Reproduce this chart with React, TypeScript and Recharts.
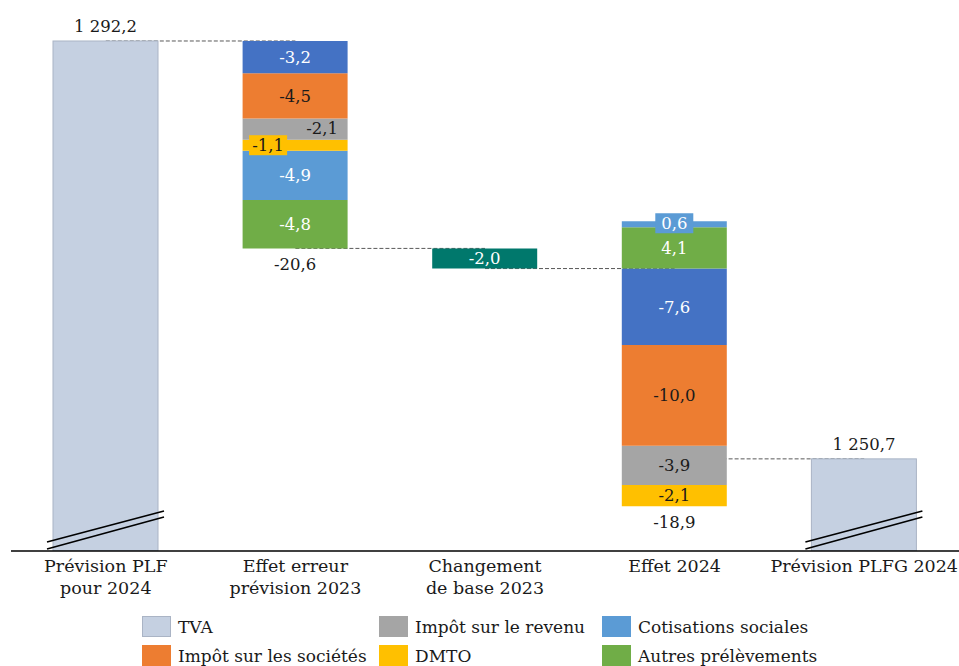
import React from "react";
import { BarChart, Bar, XAxis, YAxis, LabelList, ReferenceLine, Cell } from "recharts";

// categories (x axis)
const categories = [
  "Prévision PLF pour 2024",
  "Effet erreur prévision 2023",
  "Changement de base 2023",
  "Effet 2024",
  "Prévision PLFG 2024",
];
const categoryLines = [
  ["Prévision PLF", "pour 2024"],
  ["Effet erreur", "prévision 2023"],
  ["Changement", "de base 2023"],
  ["Effet 2024"],
  ["Prévision PLFG 2024"],
];

// totals
const previsionPlf = 1292.2;
const previsionPlfg = 1250.7;

// contributions, listed from the top of each stack to its bottom
const erreurKeys = ["tva", "is", "ir", "dmto", "cotis", "autres"];
const erreurValues = [-3.2, -4.5, -2.1, -1.1, -4.9, -4.8];
const changementKeys = ["base"];
const changementValues = [-2.0];
const effetKeys = ["cotis", "autres", "tva", "is", "ir", "dmto"];
const effetValues = [0.6, 4.1, -7.6, -10.0, -3.9, -2.1];

// legend
const legendKeys = ["tvaLegend", "ir", "cotis", "is", "dmto", "autres"];
const legendNames = [
  "TVA",
  "Impôt sur le revenu",
  "Cotisations sociales",
  "Impôt sur les sociétés",
  "DMTO",
  "Autres prélèvements",
];

const COLORS: Record<string, string> = {
  total: "#c5d0e1",
  tvaLegend: "#c5d0e1",
  tva: "#4472c4",
  is: "#ed7d31",
  ir: "#a5a5a5",
  dmto: "#ffc000",
  cotis: "#5b9bd5",
  autres: "#70ad47",
  base: "#00786c",
};
const WHITE_LABELS = ["tva", "cotis", "autres", "base"];

// small label nudges for the thin segments (category index - key)
const LABEL_TWEAKS: Record<string, { dx: number; dy: number; box?: boolean }> = {
  "1-ir": { dx: 27, dy: -1 },
  "1-dmto": { dx: -27, dy: 0, box: true },
  "3-cotis": { dx: 0, dy: -1, box: true },
};

const W = 959;
const H = 610;
const PLOT_TOP = 13;
const AXIS_H = 59;
const PLOT_BOTTOM = H - AXIS_H;
const Y_MIN = 1241.55;
const Y_MAX = 1294.98;
const SLOTS = [0, 1, 2, 3, 4, 5];
const FONT = "'DejaVu Serif', serif";

const sum = (a: number[]) => a.reduce((s, v) => s + v, 0);

function fmt(v: number) {
  const s = Math.abs(v).toFixed(1);
  const [i, d] = s.split(".");
  return (v < 0 ? "-" : "") + i.replace(/\B(?=(\d{3})+(?!\d))/g, " ") + "," + d;
}

function totalRow(name: string, value: number) {
  const row: any = { name, total: value, base: 0, kind: "total" };
  SLOTS.forEach((i) => (row["s" + i] = 0));
  return row;
}

function stepRow(name: string, start: number, keys: string[], values: number[]) {
  const neg = sum(values.filter((v) => v < 0));
  const row: any = { name, total: 0, base: start + neg, net: sum(values), kind: "step" };
  SLOTS.forEach((i) => {
    const j = keys.length - 1 - i; // stack bottom-up
    if (j >= 0) {
      row["s" + i] = Math.abs(values[j]);
      row["k" + i] = keys[j];
      row["v" + i] = values[j];
    } else {
      row["s" + i] = 0;
    }
  });
  return row;
}

const erreurEnd = previsionPlf + sum(erreurValues);
const changementEnd = erreurEnd + sum(changementValues);
const effetEnd = changementEnd + sum(effetValues);

const rows = [
  totalRow(categories[0], previsionPlf),
  stepRow(categories[1], previsionPlf, erreurKeys, erreurValues),
  stepRow(categories[2], erreurEnd, changementKeys, changementValues),
  stepRow(categories[3], changementEnd, effetKeys, effetValues),
  totalRow(categories[4], previsionPlfg),
];

const connectors = [
  { from: 0, to: 1, y: previsionPlf },
  { from: 1, to: 2, y: erreurEnd },
  { from: 2, to: 3, y: changementEnd },
  { from: 3, to: 4, y: effetEnd },
];

const findRow = (name: any) => rows.find((r) => r.name === name);

function TotalShape(props: any) {
  const { x, y, width, height } = props;
  if (!height) return null;
  const bottom = Math.min(y + height, PLOT_BOTTOM);
  const x1 = x - 6;
  const x2 = x + width + 6;
  return (
    <g>
      <rect x={x} y={y} width={width} height={bottom - y} fill={COLORS.total} stroke="#aab4c5" strokeWidth={1} />
      <line x1={x1} y1={bottom - 9} x2={x2} y2={bottom - 40} stroke="#000" strokeWidth={1.6} />
      <line x1={x1} y1={bottom - 2} x2={x2} y2={bottom - 34} stroke="#000" strokeWidth={1.6} />
    </g>
  );
}

function CategoryTick(props: any) {
  const { x, payload } = props;
  const idx = categories.indexOf(payload.value);
  const lines = categoryLines[idx] || [payload.value];
  return (
    <text x={x} y={PLOT_BOTTOM + 21} textAnchor="middle" fontFamily={FONT} fontSize={17.5} fill="#1a1a1a">
      {lines.map((l, i) => (
        <tspan key={i} x={x} dy={i === 0 ? 0 : 22}>
          {l}
        </tspan>
      ))}
    </text>
  );
}

const segLabel = (slot: number) => (props: any) => {
  const { x, y, width, height, value } = props;
  const row = findRow(value);
  if (!row || row.kind !== "step" || !row["s" + slot]) return null;
  const index = rows.indexOf(row);
  const key = row["k" + slot];
  const tw = LABEL_TWEAKS[index + "-" + key] || { dx: 0, dy: 0 };
  const cx = x + width / 2 + tw.dx;
  const cy = y + height / 2 + tw.dy;
  const text = fmt(row["v" + slot]);
  const color = WHITE_LABELS.includes(key) ? "#ffffff" : "#1a1a1a";
  return (
    <g>
      {tw.box && <rect x={cx - 19} y={cy - 10} width={38} height={20} fill={COLORS[key]} />}
      <text x={cx} y={cy} dy="0.35em" textAnchor="middle" fontFamily={FONT} fontSize={16.5} fill={color}>
        {text}
      </text>
    </g>
  );
};

const netLabel = (props: any) => {
  const { x, y, width, value } = props;
  const row = findRow(value);
  if (!row || row.kind !== "step" || row.name === categories[2]) return null;
  return (
    <text x={x + width / 2} y={y + 16} dy="0.35em" textAnchor="middle" fontFamily={FONT} fontSize={16.5} fill="#1a1a1a">
      {fmt(row.net)}
    </text>
  );
};

const totalLabel = (props: any) => {
  const { x, y, width, value } = props;
  const row = findRow(value);
  if (!row || row.kind !== "total") return null;
  return (
    <text x={x + width / 2} y={y - 15} dy="0.35em" textAnchor="middle" fontFamily={FONT} fontSize={16.5} fill="#1a1a1a">
      {fmt(row.total)}
    </text>
  );
};

const LEGEND_X = [142, 379, 602];
const LEGEND_Y = [616, 645];

export default function App() {
  return (
    <div
      style={{
        position: "fixed",
        left: 0,
        top: 0,
        width: W,
        height: 666,
        overflow: "hidden",
        background: "#fff",
        fontFamily: FONT,
      }}
    >
      <BarChart
        width={W}
        height={H}
        data={rows}
        margin={{ top: PLOT_TOP, right: 0, left: 11, bottom: 0 }}
        barSize={105}
      >
        <XAxis
          dataKey="name"
          height={AXIS_H}
          interval={0}
          tickLine={false}
          axisLine={{ stroke: "#000", strokeWidth: 1.5 }}
          tick={<CategoryTick />}
        />
        <YAxis hide type="number" domain={[Y_MIN, Y_MAX]} allowDataOverflow />
        {connectors.map((c, i) => (
          <ReferenceLine
            key={i}
            zIndex={-50}
            segment={[
              { x: categories[c.from], y: c.y },
              { x: categories[c.to], y: c.y },
            ]}
            stroke="#595959"
            strokeWidth={1}
            strokeDasharray="4 2"
          />
        ))}
        <Bar dataKey="total" stackId="w" shape={<TotalShape />} isAnimationActive={false}>
          <LabelList dataKey="name" content={totalLabel} />
        </Bar>
        <Bar dataKey="base" stackId="w" fill="transparent" isAnimationActive={false}>
          <LabelList dataKey="name" content={netLabel} />
        </Bar>
        {SLOTS.map((i) => (
          <Bar key={i} dataKey={"s" + i} stackId="w" isAnimationActive={false}>
            {rows.map((r, j) => (
              <Cell key={j} fill={COLORS[r["k" + i]] || "transparent"} />
            ))}
            <LabelList dataKey="name" content={segLabel(i)} />
          </Bar>
        ))}
      </BarChart>
      {legendNames.map((name, i) => {
        const key = legendKeys[i];
        return (
          <div
            key={name}
            style={{
              position: "absolute",
              left: LEGEND_X[i % 3],
              top: LEGEND_Y[Math.floor(i / 3)],
              height: 21,
              display: "flex",
              alignItems: "center",
              whiteSpace: "nowrap",
              fontSize: 17,
              color: "#1a1a1a",
            }}
          >
            <span
              style={{
                display: "inline-block",
                width: key === "tvaLegend" ? 27 : 29,
                height: key === "tvaLegend" ? 19 : 21,
                background: COLORS[key],
                border: key === "tvaLegend" ? "1px solid #aab4c5" : "none",
                marginRight: 7,
              }}
            />
            {name}
          </div>
        );
      })}
    </div>
  );
}
